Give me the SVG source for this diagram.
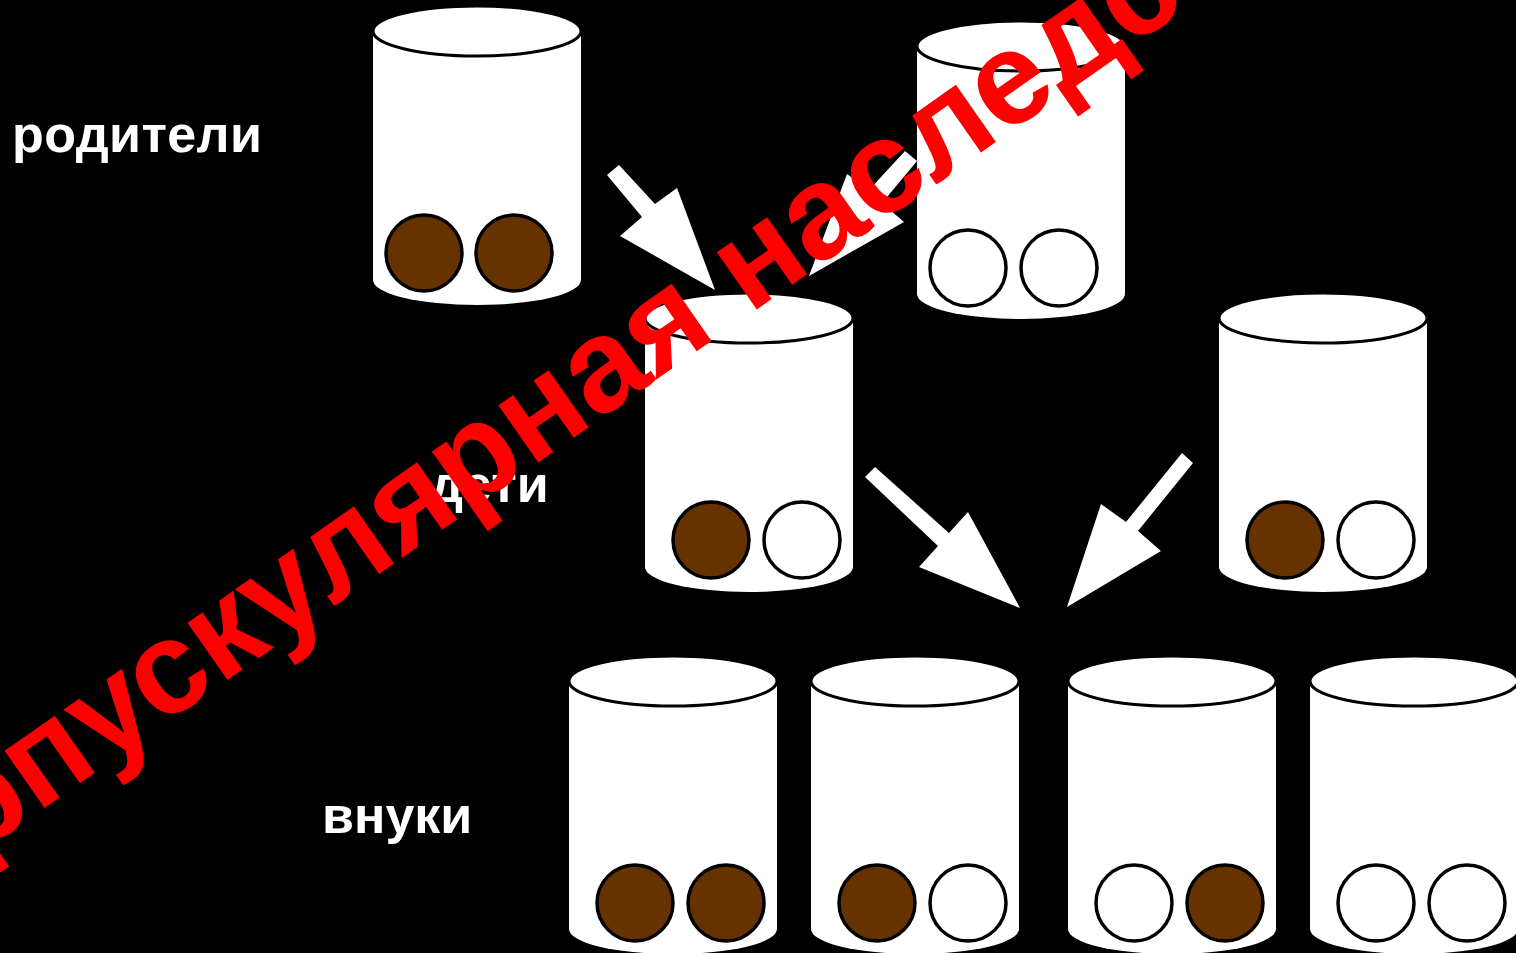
<svg xmlns="http://www.w3.org/2000/svg" width="1516" height="953" viewBox="0 0 1516 953">
<defs>
<style>
.body{fill:#fff;stroke:none}
.top{fill:#fff;stroke:#000;stroke-width:3}
.b{fill:#663300;stroke:#000;stroke-width:3.5}
.w{fill:#fff;stroke:#000;stroke-width:3.5}
.arrow{fill:#fff;stroke:none}
.lbl{font-family:"Liberation Sans",Arial,sans-serif;font-weight:bold;font-size:52px;fill:#fff}
.title{font-family:"Liberation Sans",Arial,sans-serif;font-weight:bold;font-size:132px;fill:#ff0000}
</style>
</defs>
<rect x="0" y="0" width="1516" height="953" fill="#000"/>

<g id="label-parents"><text class="lbl" x="12" y="152" textLength="250">родители</text></g>
<g id="label-children"><text class="lbl" x="430" y="502">дети</text></g>
<g id="label-grandchildren"><text class="lbl" x="322" y="833">внуки</text></g>

<g id="parent1">
<path class="body" d="M373,31 L373,280 A104,25 0 0 0 581,280 L581,31 Z"/>
<ellipse class="top" cx="477" cy="31" rx="104" ry="25"/>
<circle class="b" cx="424" cy="253" r="38"/>
<circle class="b" cx="514" cy="253" r="38"/>
</g>

<g id="parent2">
<path class="body" d="M917,46 L917,294 A104,25 0 0 0 1125,294 L1125,46 Z"/>
<ellipse class="top" cx="1021" cy="46" rx="104" ry="25"/>
<circle class="w" cx="968" cy="268" r="38"/>
<circle class="w" cx="1059" cy="268" r="38"/>
</g>

<g id="child1">
<path class="body" d="M645,318 L645,567 A104,25 0 0 0 853,567 L853,318 Z"/>
<ellipse class="top" cx="749" cy="318" rx="104" ry="25"/>
<circle class="b" cx="711" cy="540" r="38"/>
<circle class="w" cx="802" cy="540" r="38"/>
</g>

<g id="child2">
<path class="body" d="M1219,318 L1219,567 A104,25 0 0 0 1427,567 L1427,318 Z"/>
<ellipse class="top" cx="1323" cy="318" rx="104" ry="25"/>
<circle class="b" cx="1285" cy="540" r="38"/>
<circle class="w" cx="1376" cy="540" r="38"/>
</g>

<g id="grandchild1">
<path class="body" d="M569,681 L569,929 A104,25 0 0 0 777,929 L777,681 Z"/>
<ellipse class="top" cx="673" cy="681" rx="104" ry="25"/>
<circle class="b" cx="635" cy="903" r="38"/>
<circle class="b" cx="726" cy="903" r="38"/>
</g>

<g id="grandchild2">
<path class="body" d="M811,681 L811,929 A104,25 0 0 0 1019,929 L1019,681 Z"/>
<ellipse class="top" cx="915" cy="681" rx="104" ry="25"/>
<circle class="b" cx="877" cy="903" r="38"/>
<circle class="w" cx="968" cy="903" r="38"/>
</g>

<g id="grandchild3">
<path class="body" d="M1068,681 L1068,929 A104,25 0 0 0 1276,929 L1276,681 Z"/>
<ellipse class="top" cx="1172" cy="681" rx="104" ry="25"/>
<circle class="w" cx="1134" cy="903" r="38"/>
<circle class="b" cx="1225" cy="903" r="38"/>
</g>

<g id="grandchild4">
<path class="body" d="M1310,681 L1310,929 A104,25 0 0 0 1518,929 L1518,681 Z"/>
<ellipse class="top" cx="1414" cy="681" rx="104" ry="25"/>
<circle class="w" cx="1376" cy="903" r="38"/>
<circle class="w" cx="1467" cy="903" r="38"/>
</g>

<g id="connectors">
<polygon class="arrow" points="607,175 619,165 655,204 677,188 715,290 620,236 642,217"/>
<polygon class="arrow" points="917,161 905,151 869,190 847,174 809,276 904,222 882,203"/>
<polygon class="arrow" points="865,477 875,467 949,533 968,512 1020,608 919,567 938,546"/>
<polygon class="arrow" points="1182,453 1193,463 1138,531 1161,551 1067,607 1101,504 1126,522"/>
</g>

<g id="watermark">
<text class="title" x="0" y="0" transform="translate(-161,952) rotate(-35)">Корпускулярная наследственность</text>
</g>
</svg>
